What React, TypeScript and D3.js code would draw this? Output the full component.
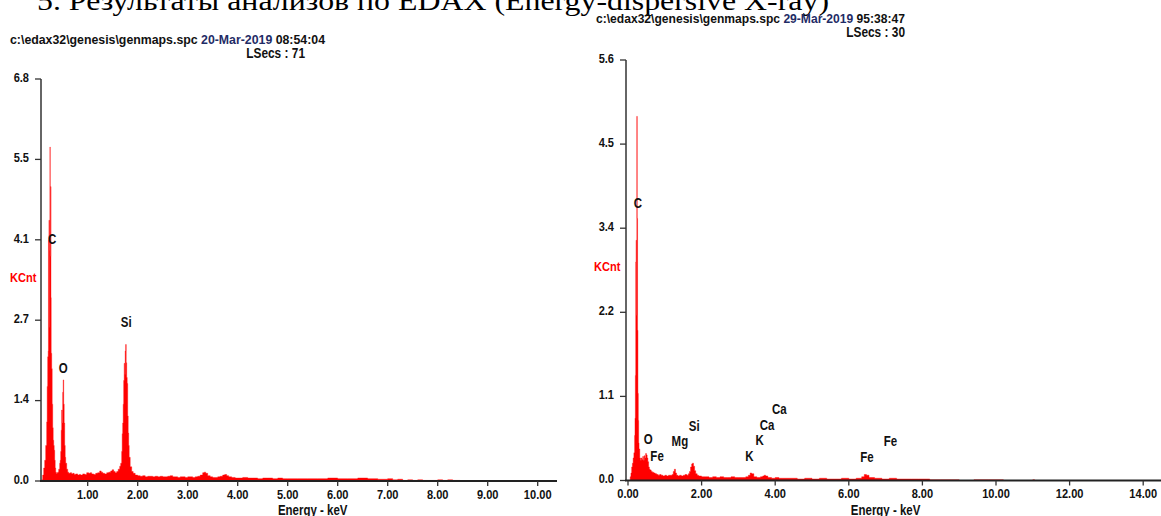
import React from "react";
import * as d3 from "d3";

// ---------- DATA ----------
const headingText = "5. Результаты анализов по EDAX (Energy-dispersive X-ray)";

const leftTitlePath = "c:\\edax32\\genesis\\genmaps.spc";
const leftTitleDate = "20-Mar-2019";
const leftTitleTime = "08:54:04";
const leftLSecs = "LSecs : 71";

const rightTitlePath = "c:\\edax32\\genesis\\genmaps.spc";
const rightTitleDate = "29-Mar-2019";
const rightTitleTime = "95:38:47";
const rightLSecs = "LSecs : 30";

const leftYTicks = [0, 1.36, 2.72, 4.08, 5.44, 6.8];
const leftYTickLabels = ["0.0", "1.4", "2.7", "4.1", "5.5", "6.8"];
const leftXTicks = [1, 2, 3, 4, 5, 6, 7, 8, 9, 10];
const leftXTickLabels = ["1.00", "2.00", "3.00", "4.00", "5.00", "6.00", "7.00", "8.00", "9.00", "10.00"];

const rightYTicks = [0, 1.12, 2.24, 3.36, 4.48, 5.6];
const rightYTickLabels = ["0.0", "1.1", "2.2", "3.4", "4.5", "5.6"];
const rightXTicks = [0, 2, 4, 6, 8, 10, 12, 14];
const rightXTickLabels = ["0.00", "2.00", "4.00", "6.00", "8.00", "10.00", "12.00", "14.00"];

// [energy keV, KCnt]
const leftSpectrum: [number, number][] = [
  [0.06, 0], [0.08, 0.02], [0.10, 0.1], [0.12, 0.22], [0.14, 0.35], [0.16, 0.6], [0.18, 1.0],
  [0.19, 1.6], [0.20, 2.1], [0.21, 2.2], [0.215, 4.07], [0.225, 4.41], [0.235, 3.9], [0.24, 2.6],
  [0.245, 5.65], [0.25, 3.8], [0.26, 4.98], [0.265, 3.1], [0.27, 2.16], [0.28, 1.9], [0.29, 1.3],
  [0.30, 0.9], [0.31, 0.69], [0.32, 0.6], [0.33, 0.52], [0.34, 0.35], [0.35, 0.22], [0.36, 0.15],
  [0.37, 0.12], [0.38, 0.14], [0.39, 0.13], [0.40, 0.15], [0.42, 0.2], [0.44, 0.3], [0.45, 0.35],
  [0.46, 0.5], [0.47, 0.86], [0.48, 1.2], [0.49, 0.98], [0.50, 1.5], [0.51, 1.71], [0.52, 1.3],
  [0.53, 0.98], [0.54, 0.6], [0.55, 0.4], [0.56, 0.3], [0.58, 0.2], [0.60, 0.15], [0.62, 0.13],
  [0.65, 0.14], [0.68, 0.12], [0.70, 0.13], [0.73, 0.11], [0.76, 0.12], [0.80, 0.1], [0.83, 0.11],
  [0.86, 0.1], [0.90, 0.12], [0.94, 0.11], [0.98, 0.14], [1.02, 0.13], [1.05, 0.14], [1.08, 0.12],
  [1.12, 0.11], [1.16, 0.13], [1.20, 0.14], [1.24, 0.17], [1.27, 0.15], [1.30, 0.13], [1.34, 0.12],
  [1.38, 0.14], [1.42, 0.15], [1.46, 0.17], [1.49, 0.19], [1.52, 0.16], [1.55, 0.14], [1.58, 0.16],
  [1.61, 0.2], [1.64, 0.25], [1.66, 0.3], [1.68, 0.5], [1.69, 0.8], [1.70, 0.98], [1.71, 1.3],
  [1.72, 1.7], [1.73, 1.99], [1.74, 1.8], [1.75, 2.2], [1.76, 2.31], [1.77, 2.0], [1.78, 1.75],
  [1.79, 1.65], [1.80, 1.1], [1.81, 0.81], [1.82, 0.6], [1.83, 0.4], [1.85, 0.24], [1.88, 0.16],
  [1.91, 0.13], [1.95, 0.1], [2.00, 0.09], [2.05, 0.08], [2.10, 0.09], [2.15, 0.07], [2.20, 0.08],
  [2.25, 0.08], [2.30, 0.07], [2.35, 0.08], [2.40, 0.07], [2.45, 0.08], [2.50, 0.07], [2.55, 0.07],
  [2.60, 0.08], [2.65, 0.09], [2.70, 0.07], [2.75, 0.07], [2.80, 0.06], [2.85, 0.07], [2.90, 0.07],
  [2.95, 0.06], [3.00, 0.07], [3.05, 0.07], [3.10, 0.06], [3.15, 0.07], [3.20, 0.08], [3.25, 0.10],
  [3.30, 0.14], [3.33, 0.15], [3.36, 0.13], [3.40, 0.09], [3.45, 0.07], [3.50, 0.06], [3.55, 0.06],
  [3.60, 0.07], [3.65, 0.08], [3.70, 0.10], [3.74, 0.11], [3.78, 0.09], [3.82, 0.07], [3.88, 0.06],
  [3.95, 0.05], [4.0, 0.05], [4.1, 0.06], [4.2, 0.05], [4.3, 0.05], [4.4, 0.04], [4.5, 0.05],
  [4.6, 0.05], [4.7, 0.04], [4.8, 0.05], [4.9, 0.04], [5.0, 0.04], [5.2, 0.04], [5.4, 0.04],
  [5.6, 0.04], [5.8, 0.05], [6.0, 0.04], [6.2, 0.04], [6.4, 0.05], [6.6, 0.04], [6.8, 0.03],
  [7.0, 0.04], [7.1, 0.02], [7.2, 0.03], [7.3, 0.01], [7.4, 0.02], [7.5, 0.01], [7.6, 0.02],
  [7.7, 0.01], [7.8, 0.01], [8.0, 0.02], [8.1, 0.01], [8.2, 0.02], [8.3, 0.01], [8.4, 0.01], [8.45, 0],
];

const rightSpectrum: [number, number][] = [
  [0.04, 0], [0.06, 0.05], [0.08, 0.1], [0.10, 0.18], [0.12, 0.23], [0.14, 0.3], [0.16, 0.37],
  [0.18, 0.6], [0.19, 0.83], [0.20, 1.4], [0.21, 2.91], [0.22, 3.2], [0.23, 2.2], [0.24, 4.85],
  [0.25, 3.49], [0.26, 2.0], [0.27, 1.16], [0.28, 0.8], [0.29, 0.5], [0.30, 0.42], [0.32, 0.3],
  [0.34, 0.27], [0.36, 0.3], [0.38, 0.28], [0.40, 0.32], [0.42, 0.27], [0.44, 0.33], [0.46, 0.3],
  [0.48, 0.36], [0.50, 0.34], [0.52, 0.3], [0.54, 0.25], [0.56, 0.18], [0.58, 0.15], [0.60, 0.14],
  [0.63, 0.12], [0.66, 0.11], [0.70, 0.1], [0.74, 0.09], [0.78, 0.08], [0.82, 0.07], [0.86, 0.08],
  [0.90, 0.07], [0.95, 0.06], [1.00, 0.07], [1.05, 0.06], [1.10, 0.07], [1.15, 0.07], [1.20, 0.08],
  [1.23, 0.12], [1.26, 0.15], [1.29, 0.1], [1.32, 0.07], [1.36, 0.06], [1.40, 0.07], [1.45, 0.06],
  [1.50, 0.07], [1.55, 0.08], [1.60, 0.07], [1.64, 0.09], [1.67, 0.12], [1.70, 0.18], [1.73, 0.22],
  [1.75, 0.23], [1.78, 0.19], [1.81, 0.13], [1.84, 0.09], [1.88, 0.07], [1.92, 0.06], [2.0, 0.05],
  [2.1, 0.05], [2.2, 0.04], [2.3, 0.05], [2.4, 0.04], [2.5, 0.05], [2.6, 0.04], [2.7, 0.04],
  [2.8, 0.05], [2.9, 0.04], [3.0, 0.04], [3.1, 0.04], [3.2, 0.05], [3.27, 0.07], [3.32, 0.1],
  [3.36, 0.09], [3.42, 0.05], [3.5, 0.04], [3.6, 0.05], [3.66, 0.06], [3.70, 0.07], [3.74, 0.06],
  [3.8, 0.04], [3.9, 0.03], [4.0, 0.04], [4.1, 0.03], [4.2, 0.03], [4.4, 0.03], [4.6, 0.02],
  [4.8, 0.03], [5.0, 0.02], [5.2, 0.03], [5.4, 0.02], [5.6, 0.02], [5.8, 0.03], [6.0, 0.02],
  [6.2, 0.03], [6.35, 0.05], [6.42, 0.08], [6.48, 0.07], [6.55, 0.04], [6.7, 0.03], [6.9, 0.02],
  [7.1, 0.03], [7.3, 0.02], [7.5, 0.02], [7.7, 0.02], [7.9, 0.02], [8.1, 0.02], [8.2, 0.01],
  [8.5, 0.01], [8.8, 0.01], [9.0, 0.0], [9.4, 0.01], [9.8, 0.01], [10.0, 0.01], [10.2, 0],
  [11.0, 0.01], [11.05, 0],
];

// peak labels: [label, energy keV, KCnt]
const leftPeaks: [string, number, number][] = [
  ["C", 0.29, 4.1], ["O", 0.51, 1.91], ["Si", 1.77, 2.69],
];
const rightPeaks: [string, number, number][] = [
  ["C", 0.27, 3.70], ["O", 0.55, 0.55], ["Fe", 0.79, 0.33], ["Mg", 1.41, 0.52],
  ["Si", 1.80, 0.72], ["K", 3.30, 0.33], ["K", 3.58, 0.54], ["Ca", 3.78, 0.74],
  ["Ca", 4.11, 0.95], ["Fe", 6.49, 0.31], ["Fe", 7.13, 0.52],
];

// ---------- STYLE ----------
const SANS = "'Liberation Sans Narrow','Arial Narrow','Liberation Sans',Arial,sans-serif";
const RED = "#ff0000";
const AXIS = "#333333";
const SX = 0.82;

function NText(props: {
  x: number;
  y: number;
  size: number;
  anchor?: "start" | "middle" | "end";
  fill?: string;
  children: React.ReactNode;
}) {
  return (
    <text
      transform={`translate(${props.x},${props.y}) scale(${SX},1)`}
      dy="0.36em"
      textAnchor={props.anchor || "start"}
      fontFamily={SANS}
      fontWeight="bold"
      fontSize={props.size}
      fill={props.fill || "#111"}
    >
      {props.children}
    </text>
  );
}

type PanelProps = {
  spectrum: [number, number][];
  yTicks: number[];
  yTickLabels: string[];
  xTicks: number[];
  xTickLabels: string[];
  peaks: [string, number, number][];
  xDomainMax: number;
  xRange: [number, number];
  yRange: [number, number];
  axisX: number;
  axisEndX: number;
  title: [string, string, string];
  titleX: number;
  titleY: number;
  titleWidth: number;
  lsecs: string;
  lsecsEndX: number;
  kcntY: number;
  kcntX: number;
};

function Panel(p: PanelProps) {
  const x = d3.scaleLinear().domain([0, p.xDomainMax]).range(p.xRange);
  const yMax = p.yTicks[p.yTicks.length - 1];
  const y = d3.scaleLinear().domain([0, yMax]).range(p.yRange);
  const area = d3
    .area<[number, number]>()
    .x((d) => x(d[0]))
    .y0(y(0))
    .y1((d) => y(d[1]))
    .curve(d3.curveStepAfter);
  const base = y(0);
  const top = y(yMax);
  const xMid = (x(p.xTicks[0]) + x(p.xTicks[p.xTicks.length - 1])) / 2;
  return (
    <g>
      <text
        x={p.titleX}
        y={p.titleY}
        fontFamily={SANS}
        fontWeight="bold"
        fontSize={12}
        fill="#111"
        textLength={p.titleWidth}
        lengthAdjust="spacingAndGlyphs"
      >
        {p.title[0]}
        <tspan fill="#1f2c66">{"  " + p.title[1]}</tspan>
        <tspan>{"  " + p.title[2]}</tspan>
      </text>
      <NText x={p.lsecsEndX} y={p.titleY + 9} size={14.5} anchor="end">
        {p.lsecs}
      </NText>

      <path d={area(p.spectrum) || ""} fill={RED} stroke={RED} strokeWidth={0.4} />

      {/* y axis */}
      <line x1={p.axisX} x2={p.axisX} y1={top} y2={base} stroke={AXIS} strokeWidth={1.5} />
      {p.yTicks.map((t, i) => (
        <g key={"y" + i}>
          <line x1={p.axisX - 6} x2={p.axisX} y1={y(t)} y2={y(t)} stroke={AXIS} strokeWidth={1.3} />
          <NText x={p.axisX - 12} y={y(t) - 2} size={13.5} anchor="end">
            {p.yTickLabels[i]}
          </NText>
        </g>
      ))}
      <NText x={p.kcntX} y={p.kcntY} size={13.5} fill={RED}>
        KCnt
      </NText>

      {/* x axis */}
      <line x1={p.axisX - 1} x2={p.axisEndX} y1={base} y2={base} stroke="#222" strokeWidth={2.2} />
      {p.xTicks.map((t, i) => (
        <g key={"x" + i}>
          <line x1={x(t)} x2={x(t)} y1={base} y2={base + 5} stroke={AXIS} strokeWidth={1.3} />
          <NText x={x(t)} y={base + 13} size={13.5} anchor="middle">
            {p.xTickLabels[i]}
          </NText>
        </g>
      ))}
      <NText x={xMid} y={base + 29} size={14} anchor="middle">
        Energy - keV
      </NText>

      {p.peaks.map((pk, i) => (
        <NText key={"p" + i} x={x(pk[1])} y={y(pk[2])} size={14} anchor="middle">
          {pk[0]}
        </NText>
      ))}
    </g>
  );
}

export default function App() {
  return (
    <svg
      width={1161}
      height={516}
      style={{ position: "absolute", left: 0, top: 0, background: "#fff" }}
    >
      <rect width={1161} height={516} fill="#fff" />
      <text
        x={37}
        y={10}
        fontFamily="'Liberation Serif','Times New Roman',serif"
        fontSize={27}
        fill="#000"
        textLength={792}
        lengthAdjust="spacingAndGlyphs"
      >
        {headingText}
      </text>
      <Panel
        spectrum={leftSpectrum}
        yTicks={leftYTicks}
        yTickLabels={leftYTickLabels}
        xTicks={leftXTicks}
        xTickLabels={leftXTickLabels}
        peaks={leftPeaks}
        xDomainMax={10}
        xRange={[37.7, 537.7]}
        yRange={[481, 79]}
        axisX={41}
        axisEndX={557}
        title={[leftTitlePath, leftTitleDate, leftTitleTime]}
        titleX={10}
        titleY={44}
        titleWidth={315}
        lsecs={leftLSecs}
        lsecsEndX={305}
        kcntX={10}
        kcntY={277}
      />
      <Panel
        spectrum={rightSpectrum}
        yTicks={rightYTicks}
        yTickLabels={rightYTickLabels}
        xTicks={rightXTicks}
        xTickLabels={rightXTickLabels}
        peaks={rightPeaks}
        xDomainMax={14}
        xRange={[628, 1143.2]}
        yRange={[480.5, 60]}
        axisX={626}
        axisEndX={1161}
        title={[rightTitlePath, rightTitleDate, rightTitleTime]}
        titleX={596}
        titleY={23}
        titleWidth={309}
        lsecs={rightLSecs}
        lsecsEndX={905}
        kcntX={594}
        kcntY={266}
      />
    </svg>
  );
}
